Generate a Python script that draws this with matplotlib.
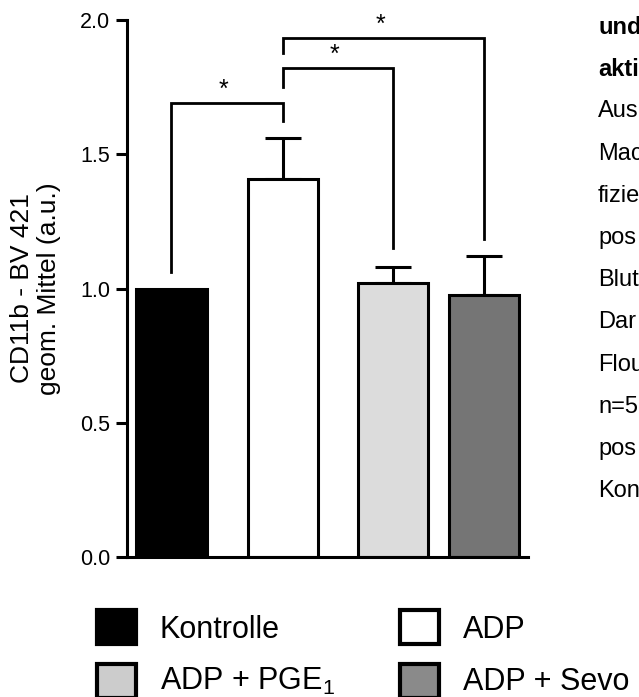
import matplotlib
matplotlib.use("Agg")
import matplotlib.pyplot as plt
from matplotlib.patches import Rectangle

plt.rcParams['font.family'] = ['Liberation Sans', 'DejaVu Sans']
plt.rcParams['mathtext.fontset'] = 'custom'
plt.rcParams['mathtext.rm'] = 'Liberation Sans'

# data
groups = ['Kontrolle', 'ADP', 'ADP + PGE$_\\mathregular{1}$', 'ADP + Sevo']
means = [1.0, 1.408, 1.020, 0.976]
sems = [0.0, 0.153, 0.060, 0.145]
colors = ['#000000', '#ffffff', '#dcdcdc', '#757575']
legend_colors = ['#000000', '#ffffff', '#cccccc', '#8a8a8a']
xpos = [0, 1, 1.99, 2.80]

# significance brackets: (left bar, right bar, left leg end, top, right leg end)
brackets = [
    (0, 1, 1.061, 1.691, 1.624),
    (1, 2, 1.750, 1.821, 1.151),
    (1, 3, 1.877, 1.933, 1.184),
]

# clipped text from the page next to the figure
side_text = ['und', 'akti', 'Aus', 'Mac', 'fizie', 'pos', 'Blut',
             'Dar', 'Flou', 'n=5', 'pos', 'Kon']

W, H = 639, 697
fig = plt.figure(figsize=(W / 100, H / 100), dpi=100)
ax = fig.add_axes([127 / W, 1 - 557 / H, (528 - 127) / W, (557 - 20) / H])

lw = 2.2
ax.bar(xpos, means, width=0.628, color=colors, edgecolor='black',
       linewidth=lw, zorder=2)
for x, m, s in zip(xpos, means, sems):
    if s > 0:
        ax.errorbar(x, m, yerr=[[0], [s]], color='black', lw=lw,
                    capsize=13, capthick=lw, zorder=1)

for i, j, yl, yt, yr in brackets:
    x1, x2 = xpos[i], xpos[j]
    ax.plot([x1, x1, x2, x2], [yl, yt, yt, yr], color='black', lw=2.0,
            clip_on=False, solid_joinstyle='miter')
    ax.text((x1 + x2) / 2 - 0.03, yt + 0.003, '*', ha='center', va='bottom',
            fontsize=18)

ax.set_xlim(-0.399, 3.197)
ax.set_ylim(0, 2.0)
ax.set_yticks([0.0, 0.5, 1.0, 1.5, 2.0])
ax.set_yticklabels(['0.0', '0.5', '1.0', '1.5', '2.0'])
ax.set_xticks([])
for side in ['top', 'right']:
    ax.spines[side].set_visible(False)
for side in ['left', 'bottom']:
    ax.spines[side].set_linewidth(lw)
ax.tick_params(axis='y', direction='out', length=8, width=lw, labelsize=15.5, pad=4)
ax.set_ylabel('CD11b - BV 421\ngeom. Mittel (a.u.)', fontsize=19,
              linespacing=1.15, labelpad=14)

# legend drawn by hand
leg_pos = [(97, 610), (400, 610), (97, 664), (400, 664)]
text_base = [638, 638, 690, 690]
for (px, py), yb, c, lab in zip(leg_pos, text_base, legend_colors, groups):
    fig.add_artist(Rectangle((px / W, 1 - (py + 34) / H), 39 / W, 34 / H,
                             transform=fig.transFigure, facecolor=c,
                             edgecolor='black', linewidth=3))
    fig.text((px + 63) / W, 1 - yb / H, lab, fontsize=22,
             va='baseline', ha='left')

for k, t in enumerate(side_text):
    fig.text(598 / W, 1 - (27 + 42.2 * k) / H, t, fontsize=17,
             va='center', ha='left',
             fontweight='bold' if k < 2 else 'normal')

fig.savefig('out.png', dpi=100)
